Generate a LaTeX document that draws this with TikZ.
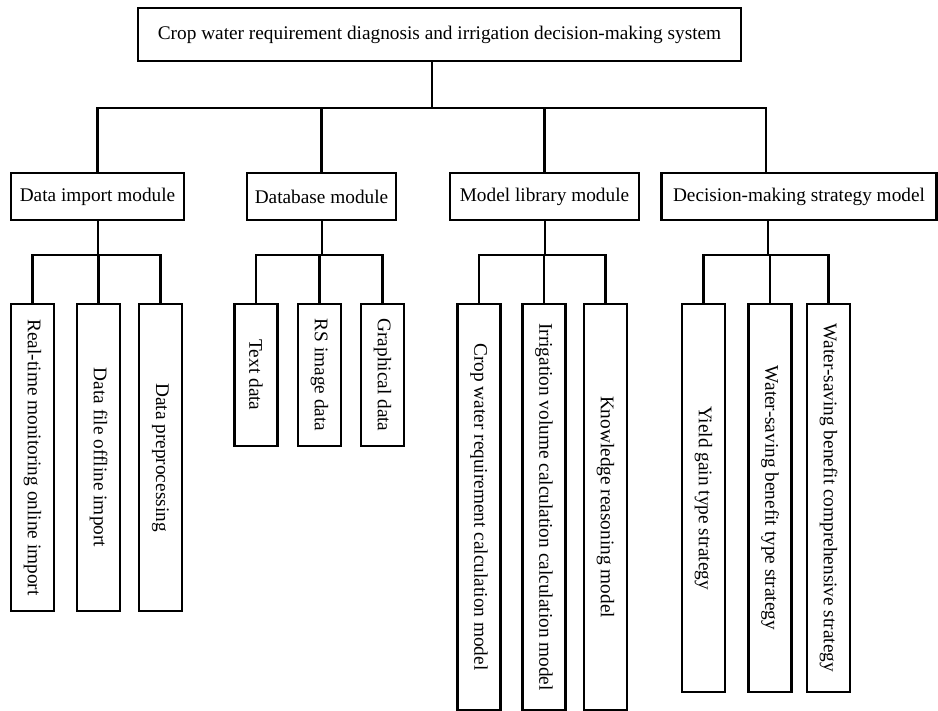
\documentclass[tikz,border=0pt]{standalone}
\usepackage{fontspec}
\setmainfont{Liberation Serif}
\tikzset{
  box/.style={draw, line width=2.2pt, inner sep=0pt, font=\fontsize{19.3}{22}\selectfont},
  leaf/.style={box, minimum width=43},
  link/.style={line width=2.2pt}
}
\begin{document}
\begin{tikzpicture}[x=1pt,y=-1pt]
      \useasboundingbox (0,0) rectangle (938,711);
      % top and modules
      \node[box, minimum width=603, minimum height=53] (sys) at (439.5,34.5)
        {Crop water requirement diagnosis and irrigation decision-making system};
      \node[box, minimum width=173, minimum height=47] (imp) at (97.5,196.5) {Data import module};
      \node[box, minimum width=149, minimum height=47] (db) at (321.5,196.5) {Database module};
      \node[box, minimum width=189, minimum height=47] (lib) at (544.5,196.5) {Model library module};
      \node[box, minimum width=275, minimum height=47] (dec) at (799,196.5) {Decision-making strategy model};
      % leaves
      \node[leaf, minimum height=307] (rt) at (32.5,457.5) {\rotatebox{-90}{Real-time monitoring online import}};
      \node[leaf, minimum height=307] (ff) at (98.5,457.5) {\rotatebox{-90}{Data file offline import}};
      \node[leaf, minimum height=307] (pp) at (160.5,457.5) {\rotatebox{-90}{Data preprocessing}};
      \node[leaf, minimum height=142] (txt) at (256,375) {\rotatebox{-90}{Text data}};
      \node[leaf, minimum height=142] (rs) at (319.5,375) {\rotatebox{-90}{RS image data}};
      \node[leaf, minimum height=142] (gr) at (382.5,375) {\rotatebox{-90}{Graphical data}};
      \node[leaf, minimum height=406] (cw) at (479,507) {\rotatebox{-90}{Crop water requirement calculation model}};
      \node[leaf, minimum height=406] (iv) at (544,507) {\rotatebox{-90}{Irrigation volume calculation calculation model}};
      \node[leaf, minimum height=406] (kr) at (605.5,507) {\rotatebox{-90}{Knowledge reasoning model}};
      \node[leaf, minimum height=388] (yg) at (703.5,498) {\rotatebox{-90}{Yield gain type strategy}};
      \node[leaf, minimum height=388] (wb) at (770,498) {\rotatebox{-90}{Water-saving benefit type strategy}};
      \node[leaf, minimum height=388] (wc) at (828.5,498) {\rotatebox{-90}{Water-saving benefit comprehensive strategy}};
      % junctions
      \coordinate (j0) at (432,108);
      \coordinate (k4) at (766,108);
      \coordinate (j1) at (98,255);
      \coordinate (j2) at (322,255);
      \coordinate (j3) at (545,255);
      \coordinate (j4) at (768,255);
      \begin{scope}[link]
        \draw (sys.south -| j0) -- (j0);
        \draw (imp.north) |- (k4) -- (k4 |- dec.north);
        \draw (db.north) -- (db.north |- j0);
        \draw (lib.north) -- (lib.north |- j0);
        \draw (imp.south -| j1) -- (j1);
        \draw (rt.north) |- (j1) -| (pp.north);
        \draw (ff.north) -- (ff.north |- j1);
        \draw (db.south -| j2) -- (j2);
        \draw (txt.north) |- (j2) -| (gr.north);
        \draw (rs.north) -- (rs.north |- j2);
        \draw (lib.south -| j3) -- (j3);
        \draw (cw.north) |- (j3) -| (kr.north);
        \draw (iv.north) -- (iv.north |- j3);
        \draw (dec.south -| j4) -- (j4);
        \draw (yg.north) |- (j4) -| (wc.north);
        \draw (wb.north) -- (wb.north |- j4);
      \end{scope}
    \end{tikzpicture}
\end{document}
